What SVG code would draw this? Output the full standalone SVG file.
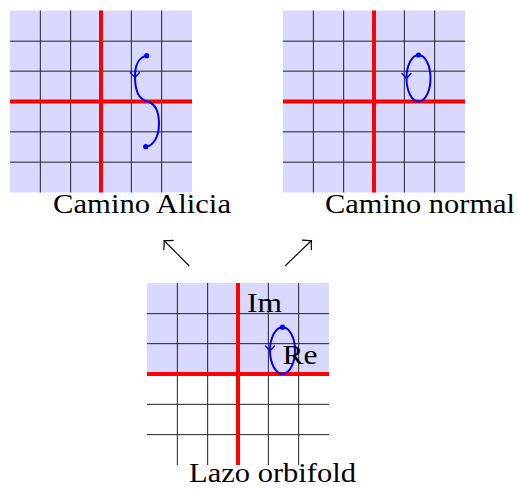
<svg xmlns="http://www.w3.org/2000/svg" width="518" height="489" viewBox="0 0 518 489">
<style>
.bg{fill:#d9d9ff;stroke:none}
.grid{stroke:#222;stroke-width:1;fill:none}
.axis{stroke:#ff0000;stroke-width:4;fill:none}
.path{stroke:#0000ff;stroke-width:2;fill:none}
.head{stroke:#0000ff;stroke-width:1.4;fill:none;stroke-linecap:round}
.dot{fill:#0000ff}
.lbl{font-family:"Liberation Serif","Times New Roman",serif;font-size:28px;fill:#000}
.conn{stroke:#000;stroke-width:1.1;fill:none}
</style>
<defs>
<marker id="arr" markerUnits="userSpaceOnUse" markerWidth="14" markerHeight="16" viewBox="-9 -8 12 16" refX="0" refY="0" orient="auto" overflow="visible">
<path d="M-6.4,-6.6 Q-2.2,-1.6 0,0 Q-2.2,1.6 -6.4,6.6" fill="none" stroke="#000" stroke-width="1.2" stroke-linecap="round"/>
</marker>
</defs>

<g id="camino-alicia">
<rect class="bg" x="10" y="10.5" width="182" height="182"/>
<path class="grid" d="M40.33,10.5V192.5M70.67,10.5V192.5M131.33,10.5V192.5M161.67,10.5V192.5M10,41.17H192M10,71.17H192M10,131.83H192M10,162.17H192"/>
<path class="axis" d="M101,10.5V192.5M10,101.5H192"/>
<path class="path" d="M146.7,55.7 C139,57 135,65 135,76 C135,92 139,99.5 148,101.7 C156,104 159,113 159,124 C159,137 153,146 145.7,146.7"/>
<path class="head" d="M130.5,72.5 L135,77.5 L139.5,72.5"/>
<circle class="dot" cx="146.7" cy="55.7" r="2.6"/>
<circle class="dot" cx="145.7" cy="146.7" r="2.6"/>
<text class="lbl" x="53" y="213" textLength="178" lengthAdjust="spacingAndGlyphs">Camino Alicia</text>
</g>

<g id="camino-normal">
<rect class="bg" x="283" y="10.5" width="182" height="182"/>
<path class="grid" d="M313.33,10.5V192.5M343.67,10.5V192.5M404.33,10.5V192.5M434.67,10.5V192.5M283,41.17H465M283,71.17H465M283,131.83H465M283,162.17H465"/>
<path class="axis" d="M374,10.5V192.5M283,101.5H465"/>
<ellipse class="path" cx="418.5" cy="78.2" rx="12" ry="23.3"/>
<path class="head" d="M402,73.5 L406.5,78.5 L411,73.5"/>
<circle class="dot" cx="418.5" cy="55" r="2.6"/>
<text class="lbl" x="325" y="213" textLength="190" lengthAdjust="spacingAndGlyphs">Camino normal</text>
</g>

<g id="lazo-orbifold">
<rect class="bg" x="147" y="283" width="182" height="91"/>
<path class="grid" d="M177.33,283V465M207.67,283V465M268.33,283V465M298.67,283V465M147,313.67H329M147,343.67H329M147,404.33H329M147,434.67H329"/>
<path class="axis" d="M238,283V465M147,374H329"/>
<ellipse class="path" cx="282.5" cy="350.5" rx="12.5" ry="23.3"/>
<path class="head" d="M265.5,346 L270,351 L274.5,346"/>
<circle class="dot" cx="282.5" cy="327.2" r="2.6"/>
<text class="lbl" x="247" y="312" textLength="35" lengthAdjust="spacingAndGlyphs">Im</text>
<text class="lbl" x="282.5" y="363.5" textLength="35" lengthAdjust="spacingAndGlyphs">Re</text>
<text class="lbl" x="189" y="482" textLength="167" lengthAdjust="spacingAndGlyphs">Lazo orbifold</text>
</g>

<g id="connectors">
<line class="conn" x1="189.3" y1="266" x2="164" y2="240.5" marker-end="url(#arr)"/>
<line class="conn" x1="285" y1="266" x2="311.5" y2="240.5" marker-end="url(#arr)"/>
</g>
</svg>
